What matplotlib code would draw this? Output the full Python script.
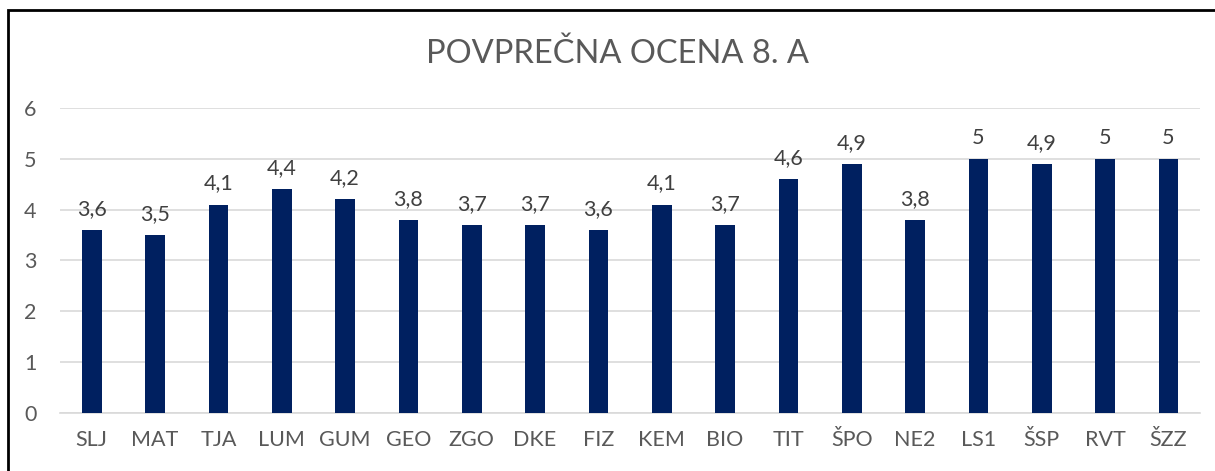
import matplotlib.pyplot as plt
from matplotlib.patches import Rectangle

plt.rcParams['font.family'] = ['Lato', 'DejaVu Sans']

subjects = ['SLJ', 'MAT', 'TJA', 'LUM', 'GUM', 'GEO', 'ZGO', 'DKE', 'FIZ',
            'KEM', 'BIO', 'TIT', 'ŠPO', 'NE2', 'LS1', 'ŠSP', 'RVT', 'ŠZZ']
grades = [3.6, 3.5, 4.1, 4.4, 4.2, 3.8, 3.7, 3.7, 3.6,
          4.1, 3.7, 4.6, 4.9, 3.8, 5, 4.9, 5, 5]

fig = plt.figure(figsize=(12.15, 4.71), dpi=100)
ax = fig.add_axes([0.0494, 0.123, 0.9383, 0.648])

x = range(len(subjects))
bars = ax.bar(x, grades, width=0.31, color='#002060', zorder=3)

# data labels with decimal comma
labels = [str(g).replace('.', ',') for g in grades]
ax.bar_label(bars, labels=labels, padding=8, fontsize=15.5, color='#404040')

ax.set_xlim(-0.5, len(subjects) - 0.5)
ax.set_ylim(0, 6)
ax.set_yticks(range(7))
ax.set_xticks(list(x))
ax.set_xticklabels(subjects)
ax.yaxis.grid(True, color='#d9d9d9', lw=1.2, zorder=0)
ax.tick_params(length=0, labelsize=15.5, labelcolor='#595959')
ax.tick_params(axis='x', pad=12)
ax.tick_params(axis='y', pad=17)
for s in ['top', 'right', 'left']:
    ax.spines[s].set_visible(False)
ax.spines['bottom'].set_color('#d9d9d9')
ax.spines['bottom'].set_linewidth(1.2)

fig.text(0.508, 0.885, 'POVPREČNA OCENA 8. A', ha='center', va='center',
         fontsize=23.5, color='#595959')

# chart border
fig.patches.append(Rectangle((8 / 1215, -0.1), 1.2, 1.1 - 10 / 471,
                             transform=fig.transFigure, fill=False,
                             edgecolor='black', lw=2))

fig.savefig('out.png', dpi=100)
